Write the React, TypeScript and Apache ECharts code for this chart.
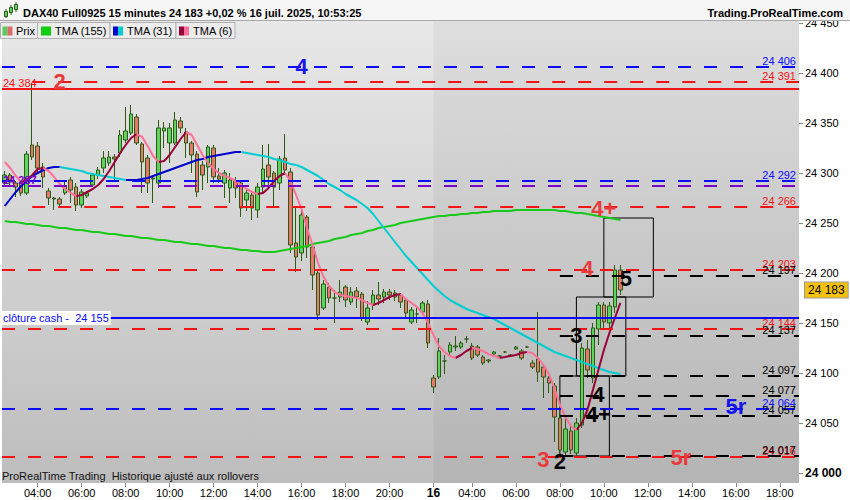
import React, { useEffect, useRef } from 'react';
import * as echarts from 'echarts';

const FONT = '"Liberation Sans", Arial, Helvetica, sans-serif';

const hhmm = (m: number) => `${String(Math.floor(m / 60)).padStart(2, '0')}:${String(m % 60).padStart(2, '0')}`;

// ---- categories (15-minute bars) ----
const day15Times: string[] = [];
for (let m = 150; m <= 1305; m += 15) day15Times.push('15 ' + hhmm(m));
const day16Times: string[] = [];
for (let m = 135; m <= 1125; m += 15) day16Times.push('16 ' + hhmm(m));
const categories = [...day15Times, ...day16Times];
const dayBreakIndex = day15Times.length;

// ---- price axis ticks ----
const yTicks = [24000, 24050, 24100, 24150, 24200, 24250, 24300, 24350, 24400, 24450];

// ---- candles: [open, close, low, high] ----
const ohlc: number[][] = [
  [24290, 24298, 24287, 24302], [24298, 24291, 24286, 24300], [24290, 24286, 24276, 24292], [24290, 24280, 24277, 24292],
  [24280, 24319, 24278, 24322], [24328, 24316, 24313, 24390], [24327, 24305, 24301, 24331], [24306, 24296, 24285, 24310],
  [24282, 24275, 24268, 24285], [24275, 24274, 24263, 24276], [24274, 24269, 24266, 24276], [24280, 24287, 24278, 24292],
  [24293, 24283, 24270, 24296], [24286, 24268, 24262, 24290], [24268, 24281, 24265, 24284], [24277, 24280, 24275, 24282],
  [24288, 24298, 24286, 24300], [24298, 24303, 24294, 24306], [24305, 24315, 24300, 24322], [24310, 24316, 24307, 24322],
  [24316, 24314, 24291, 24319], [24320, 24338, 24316, 24343], [24333, 24342, 24330, 24366], [24340, 24359, 24338, 24368],
  [24356, 24330, 24328, 24359], [24329, 24311, 24280, 24331], [24315, 24290, 24280, 24318], [24294, 24295, 24270, 24296],
  [24290, 24345, 24285, 24353], [24342, 24345, 24325, 24351], [24330, 24345, 24310, 24350], [24330, 24353, 24328, 24361],
  [24352, 24345, 24340, 24356], [24341, 24330, 24315, 24345], [24330, 24318, 24300, 24332], [24319, 24281, 24276, 24322],
  [24308, 24298, 24283, 24312], [24306, 24326, 24290, 24328], [24325, 24296, 24290, 24328], [24297, 24294, 24290, 24305],
  [24290, 24300, 24275, 24303], [24285, 24293, 24270, 24300], [24292, 24285, 24275, 24296], [24290, 24265, 24256, 24292],
  [24273, 24280, 24262, 24285], [24278, 24265, 24253, 24280], [24263, 24286, 24255, 24290], [24286, 24304, 24280, 24328],
  [24308, 24296, 24288, 24329], [24300, 24286, 24266, 24302], [24290, 24314, 24283, 24317], [24315, 24303, 24298, 24339],
  [24301, 24228, 24220, 24305], [24230, 24216, 24201, 24265], [24220, 24258, 24212, 24262], [24256, 24226, 24215, 24258],
  [24226, 24198, 24183, 24230], [24200, 24158, 24153, 24203], [24165, 24189, 24163, 24193], [24186, 24175, 24170, 24190],
  [24175, 24175, 24150, 24183], [24176, 24181, 24171, 24193], [24186, 24173, 24166, 24188], [24171, 24181, 24168, 24186],
  [24182, 24176, 24165, 24186], [24179, 24155, 24152, 24181], [24151, 24165, 24148, 24172], [24168, 24178, 24163, 24183],
  [24178, 24174, 24168, 24191], [24176, 24181, 24170, 24184], [24181, 24178, 24173, 24184], [24180, 24176, 24172, 24183],
  [24178, 24171, 24165, 24180], [24173, 24160, 24156, 24175], [24151, 24163, 24149, 24166], [24159, 24159, 24150, 24166],
  [24161, 24170, 24158, 24172], [24169, 24130, 24125, 24173],
  [24095, 24086, 24080, 24098], [24096, 24122, 24094, 24135], [24112, 24112, 24099, 24118], [24121, 24128, 24118, 24131],
  [24126, 24127, 24122, 24137], [24126, 24130, 24124, 24132], [24134, 24134, 24130, 24137], [24127, 24115, 24113, 24130],
  [24126, 24118, 24116, 24128], [24116, 24110, 24108, 24118], [24113, 24112, 24110, 24114], [24119, 24121, 24118, 24122],
  [24117, 24117, 24116, 24118], [24121, 24121, 24120, 24122], [24118, 24117, 24116, 24119], [24124, 24126, 24123, 24127],
  [24122, 24115, 24113, 24124], [24126, 24126, 24125, 24127], [24110, 24106, 24104, 24113], [24114, 24101, 24091, 24161],
  [24106, 24096, 24075, 24108], [24095, 24090, 24080, 24097], [24087, 24056, 24031, 24090], [24055, 24023, 24016, 24060],
  [24021, 24044, 24018, 24057], [24042, 24023, 24019, 24048], [24020, 24050, 24017, 24055], [24048, 24125, 24045, 24130],
  [24124, 24103, 24095, 24133], [24095, 24145, 24090, 24150], [24144, 24168, 24128, 24171], [24168, 24151, 24145, 24171],
  [24150, 24167, 24145, 24171], [24166, 24203, 24160, 24208], [24203, 24183, 24178, 24208],
];

// ---- moving averages ----
const tma155 = [
  24252, 24251, 24251, 24250, 24249, 24249, 24248, 24247, 24247, 24246,
  24245, 24245, 24244, 24243, 24243, 24242, 24241, 24241, 24240, 24239,
  24239, 24238, 24237, 24237, 24236, 24235, 24235, 24234, 24233, 24233,
  24232, 24231, 24231, 24230, 24229, 24229, 24228, 24227, 24227, 24226,
  24225, 24225, 24224, 24223, 24223, 24222, 24222, 24221, 24221, 24221,
  24222, 24223, 24224, 24225, 24226, 24227, 24229, 24230, 24231, 24232,
  24234, 24235, 24236, 24238, 24239, 24240, 24242, 24243, 24245, 24246,
  24247, 24248, 24250, 24251, 24252, 24253, 24254, 24255, 24256, 24257,
  24257, 24258, 24258, 24259, 24259, 24260, 24260, 24261, 24261, 24262,
  24262, 24262, 24262, 24263, 24263, 24263, 24263, 24263, 24263, 24263,
  24263, 24262, 24262, 24261, 24260, 24260, 24259, 24258, 24257, 24256,
  24255, 24254, 24253,
];
const tma31 = [
  24267, 24274, 24281, 24287, 24292, 24297, 24300, 24303, 24305, 24306,
  24306, 24305, 24304, 24303, 24302, 24300, 24299, 24298, 24297, 24296,
  24295, 24294, 24293, 24293, 24293, 24294, 24295, 24297, 24299, 24301,
  24303, 24305, 24307, 24309, 24311, 24313, 24314, 24316, 24317, 24318,
  24319, 24320, 24321, 24321, 24320, 24319, 24318, 24317, 24316, 24314,
  24313, 24311, 24309, 24308, 24306, 24303, 24300, 24297, 24293, 24289,
  24286, 24283, 24279, 24276, 24273, 24269, 24265, 24259, 24252, 24245,
  24238, 24231, 24224, 24217, 24211, 24205, 24199, 24193, 24187, 24182,
  24177, 24173, 24170, 24167, 24164, 24162, 24160, 24158, 24156, 24154,
  24151, 24148, 24145, 24142, 24139, 24136, 24133, 24130, 24127, 24124,
  24121, 24119, 24117, 24115, 24113, 24111, 24109, 24107, 24105, 24103,
  24101, 24100, 24099,
];
const tma6 = [
  24311, 24305, 24297, 24291, 24293, 24298, 24304, 24305, 24302, 24296,
  24289, 24284, 24280, 24277, 24278, 24281, 24284, 24288, 24294, 24302,
  24311, 24320, 24328, 24335, 24339, 24336, 24327, 24317, 24311, 24312,
  24318, 24326, 24334, 24341, 24338, 24328, 24318, 24310, 24304, 24300,
  24297, 24295, 24292, 24288, 24284, 24281, 24279, 24280, 24285, 24292,
  24297, 24300, 24292, 24278, 24264, 24245, 24228, 24210, 24196, 24187,
  24181, 24178, 24177, 24176, 24175, 24173, 24170, 24168, 24170, 24173,
  24176, 24178, 24179, 24174, 24170, 24166, 24160, 24150, 24138, 24127,
  24121, 24117, 24115, 24118, 24122, 24125, 24124, 24122, 24119, 24117,
  24115, 24116, 24117, 24118, 24120, 24121, 24120, 24115, 24108, 24099,
  24085, 24068, 24056, 24047, 24043, 24050, 24063, 24083, 24103, 24123,
  24140, 24155, 24170,
];

// ---- horizontal levels ----
const blueLevels = [24406, 24292, 24064];
const redLevels = [24391, 24266, 24203, 24144, 24016];
const redLevelStartBar = [5, 5, null, null, null];
const blackLevels = [24197, 24137, 24097, 24077, 24057, 24017];
const blackLevelStartBar = 101;
const purpleLevel = 24287;
const redSolidLevel = 24384;
const cashClose = 24155;
const lastPrice = 24183;

// ---- pattern boxes: [barFrom, priceTop, barTo, priceBottom] ----
const boxes = [
  [101, 24097, 110.3, 24017],
  [104.1, 24176, 113.2, 24097],
  [109, 24255, 118.1, 24176],
];

// ---- wave labels: [text, bar, price, colorKey] ----
const waveLabels: [string, number, number, string][] = [
  ['4', 53.7, 24407, 'blue'],
  ['2', 10, 24392, 'red'],
  ['4+', 108.9, 24265, 'red'],
  ['4', 106.1, 24205, 'red'],
  ['5', 112.8, 24195, 'black'],
  ['3', 104.1, 24138, 'black'],
  ['4', 107.9, 24079, 'black'],
  ['4+', 107.9, 24059, 'black'],
  ['5r', 133.2, 24067, 'blue'],
  ['3', 97.7, 24014, 'red'],
  ['2', 101, 24012, 'black'],
  ['5r', 123.2, 24016, 'red'],
];

const fmt = (v: number) => String(v).replace(/\B(?=(\d{3})+(?!\d))/g, ' ');

function splitTrend(vals: number[]) {
  const up: (number | null)[] = vals.map(() => null);
  const down: (number | null)[] = vals.map(() => null);
  for (let i = 0; i < vals.length - 1; i++) {
    const t = vals[i + 1] >= vals[i] ? up : down;
    t[i] = vals[i];
    t[i + 1] = vals[i + 1];
  }
  return [up, down];
}

const C = {
  blue: '#0a0aff',
  red: '#f01414',
  purple: '#7a00c8',
  black: '#000000',
  waveRed: '#e83a3a',
  waveBlue: '#1414ee',
};

export default function App() {
  const ref = useRef<HTMLDivElement>(null);
  useEffect(() => {
    if (!ref.current) return;
    const chart = echarts.init(ref.current, null, { renderer: 'svg' });
    const labelSet = new Set<number>();
    categories.forEach((c, i) => {
      const h = parseInt(c.slice(3, 5), 10);
      if (c.endsWith(':00') && h % 2 === 0 && h >= 4) labelSet.add(i);
    });
    labelSet.add(dayBreakIndex);
    const showLabel = (i: number) => labelSet.has(i);

    const [t31up, t31down] = splitTrend(tma31);
    const [t6up, t6down] = splitTrend(tma6);
    const nulls = ohlc.map(() => null);
    const RIGHT = 799;
    const LEFT = 2;
    const dash = [13, 13];

    const rightLabel = (v: number, color: string) => ({
      show: true, position: 'insideEndTop', formatter: fmt(v), color, fontSize: 11, fontFamily: FONT, distance: [3, 1],
    });
    const leftLabel = (v: number, color: string, bold = false) => ({
      show: true, position: 'insideStartTop', formatter: fmt(v), color, fontSize: 11, fontFamily: FONT, distance: [1, 1],
      fontWeight: bold ? 'bold' : 'normal',
    });

    const lines: any[] = [];
    blueLevels.forEach((v) => lines.push([
      { x: LEFT, yAxis: v, lineStyle: { color: C.blue, width: 2, type: dash }, label: rightLabel(v, C.blue) },
      { x: RIGHT, yAxis: v },
    ]));
    lines.push([
      { x: LEFT, yAxis: purpleLevel, lineStyle: { color: C.purple, width: 2, type: dash }, label: leftLabel(purpleLevel, C.purple, true) },
      { x: RIGHT, yAxis: purpleLevel },
    ]);
    redLevels.forEach((v, k) => {
      const sb = redLevelStartBar[k];
      const start: any = sb == null ? { x: LEFT, yAxis: v } : { xAxis: sb, yAxis: v };
      lines.push([
        { ...start, lineStyle: { color: C.red, width: 2, type: dash }, label: rightLabel(v, C.red) },
        { x: RIGHT, yAxis: v },
      ]);
    });
    lines.push([
      { x: LEFT, yAxis: redSolidLevel, lineStyle: { color: C.red, width: 2, type: 'solid' }, label: leftLabel(redSolidLevel, C.red) },
      { x: RIGHT, yAxis: redSolidLevel },
    ]);
    blackLevels.forEach((v) => lines.push([
      { xAxis: blackLevelStartBar, yAxis: v, lineStyle: { color: C.black, width: 2, type: dash }, label: rightLabel(v, C.black) },
      { x: RIGHT, yAxis: v },
    ]));
    lines.push([
      { x: LEFT, yAxis: cashClose, lineStyle: { color: C.blue, width: 2, type: 'solid' }, label: { show: false } },
      { x: RIGHT, yAxis: cashClose },
    ]);
    lines.push([
      { x: 0, yAxis: cashClose, lineStyle: { color: 'transparent', width: 0 },
        label: { show: true, position: 'end', distance: 0, formatter: 'clôture cash -  ' + fmt(cashClose), color: C.blue,
          backgroundColor: '#ffffff', padding: [2, 2, 1, 2], fontSize: 11, fontFamily: FONT } },
      { x: 1, yAxis: cashClose },
    ]);
    lines.push([
      { x: 799, yAxis: lastPrice, lineStyle: { color: 'transparent', width: 0 },
        label: { show: true, position: 'end', distance: 5, formatter: fmt(lastPrice), color: '#000',
          backgroundColor: '#f4c20d', borderColor: '#9a9a9a', borderWidth: 1, padding: [2, 3, 1, 3], fontSize: 12, fontFamily: FONT } },
      { x: 800, yAxis: lastPrice },
    ]);

    const waveColor: Record<string, string> = { red: C.waveRed, blue: C.waveBlue, black: '#000' };

    const option: any = {
      animation: false,
      textStyle: { fontFamily: FONT },
      grid: {
        left: 2, right: 51, top: 20, bottom: 17, show: true, borderWidth: 0,
        backgroundColor: new echarts.graphic.LinearGradient(0, 0, 0, 1, [
          { offset: 0, color: '#e8e8e8' },
          { offset: 1, color: '#bdbdbd' },
        ]),
      },
      xAxis: {
        type: 'category', data: categories, boundaryGap: true,
        axisLine: { show: false },
        axisTick: { show: true, interval: showLabel, alignWithLabel: true, length: 4, lineStyle: { color: '#888' } },
        axisLabel: {
          interval: showLabel, fontSize: 11, color: '#000', margin: 4, fontFamily: FONT,
          formatter: (v: string, i: number) => (i === dayBreakIndex ? '{b|16}' : v.slice(3)),
          rich: { b: { fontWeight: 'bold', fontSize: 12, fontFamily: FONT, color: '#000' } },
        },
        splitLine: { show: false },
      },
      yAxis: {
        type: 'value', position: 'right', min: 23990, max: 24453, scale: true,
        splitLine: { show: false },
        axisLine: { show: false },
        axisTick: { show: true, length: 4, lineStyle: { color: '#888' }, customValues: yTicks },
        axisLabel: {
          customValues: yTicks, fontSize: 11, color: '#000', margin: 6, fontFamily: FONT,
          formatter: (v: number) => (v === 24000 ? '{b|' + fmt(v) + '}' : fmt(v)),
          rich: { b: { fontWeight: 'bold', fontSize: 12, fontFamily: FONT, color: '#000' } },
        },
      },
      graphic: [
        { type: 'rect', shape: { x: 0, y: 0, width: 850, height: 20 }, style: { fill: '#f6f6f6' }, z: 10 },
        { type: 'line', shape: { x1: 0, y1: 20.5, x2: 850, y2: 20.5 }, style: { stroke: '#a8a8a8', lineWidth: 1 }, z: 10 },
        { type: 'line', shape: { x1: 6, y1: 9, x2: 6, y2: 18 }, style: { stroke: '#2b5a12', lineWidth: 1 }, z: 11 },
        { type: 'rect', shape: { x: 4.5, y: 11.5, width: 3, height: 5 }, style: { fill: '#5fd35f', stroke: '#2b5a12', lineWidth: 1 }, z: 11 },
        { type: 'line', shape: { x1: 11, y1: 5, x2: 11, y2: 15 }, style: { stroke: '#2b5a12', lineWidth: 1 }, z: 11 },
        { type: 'rect', shape: { x: 9.5, y: 7.5, width: 3, height: 5 }, style: { fill: '#5fd35f', stroke: '#2b5a12', lineWidth: 1 }, z: 11 },
        { type: 'line', shape: { x1: 16, y1: 2, x2: 16, y2: 12 }, style: { stroke: '#2b5a12', lineWidth: 1 }, z: 11 },
        { type: 'rect', shape: { x: 14.5, y: 4.5, width: 3, height: 5 }, style: { fill: '#5fd35f', stroke: '#2b5a12', lineWidth: 1 }, z: 11 },
        { type: 'text', x: 23, y: 13, z: 11, style: { text: 'DAX40 Full0925 15 minutes 24 183 +0,02 % 16 juil. 2025, 10:53:25', font: 'bold 11px ' + FONT, fill: '#000', verticalAlign: 'middle' } },
        { type: 'text', x: 843, y: 13, z: 11, style: { text: 'Trading.ProRealTime.com', font: 'bold 11px ' + FONT, fill: '#000', align: 'right', verticalAlign: 'middle' } },
        // legend
        { type: 'rect', shape: { x: 0.5, y: 22.5, width: 37, height: 16 }, style: { fill: '#ececec', stroke: '#b0b0b0', lineWidth: 1 }, z: 11 },
        { type: 'rect', shape: { x: 2.5, y: 26.5, width: 5, height: 9 }, style: { fill: '#5bc95b' }, z: 12 },
        { type: 'rect', shape: { x: 7.5, y: 26.5, width: 5, height: 9 }, style: { fill: '#e06a6a' }, z: 12 },
        { type: 'text', x: 16, y: 31, z: 12, style: { text: 'Prix', font: '11px ' + FONT, fill: '#000', verticalAlign: 'middle' } },
        { type: 'rect', shape: { x: 37.5, y: 22.5, width: 72.5, height: 16 }, style: { fill: '#ececec', stroke: '#b0b0b0', lineWidth: 1 }, z: 11 },
        { type: 'rect', shape: { x: 41, y: 26.5, width: 10, height: 9 }, style: { fill: '#11cc11' }, z: 12 },
        { type: 'text', x: 55, y: 31, z: 12, style: { text: 'TMA (155)', font: '11px ' + FONT, fill: '#000', verticalAlign: 'middle' } },
        { type: 'rect', shape: { x: 110, y: 22.5, width: 66, height: 16 }, style: { fill: '#ececec', stroke: '#b0b0b0', lineWidth: 1 }, z: 11 },
        { type: 'rect', shape: { x: 113, y: 26.5, width: 5, height: 9 }, style: { fill: '#0000cc' }, z: 12 },
        { type: 'rect', shape: { x: 118, y: 26.5, width: 5, height: 9 }, style: { fill: '#00cdd0' }, z: 12 },
        { type: 'text', x: 127, y: 31, z: 12, style: { text: 'TMA (31)', font: '11px ' + FONT, fill: '#000', verticalAlign: 'middle' } },
        { type: 'rect', shape: { x: 176, y: 22.5, width: 59, height: 16 }, style: { fill: '#ececec', stroke: '#b0b0b0', lineWidth: 1 }, z: 11 },
        { type: 'rect', shape: { x: 179, y: 26.5, width: 5, height: 9 }, style: { fill: '#99003a' }, z: 12 },
        { type: 'rect', shape: { x: 184, y: 26.5, width: 5, height: 9 }, style: { fill: '#ff6f99' }, z: 12 },
        { type: 'text', x: 193, y: 31, z: 12, style: { text: 'TMA (6)', font: '11px ' + FONT, fill: '#000', verticalAlign: 'middle' } },
        { type: 'text', x: 2, y: 476, z: 11, style: { text: 'ProRealTime Trading  Historique ajusté aux rollovers', font: '11px ' + FONT, fill: '#111', verticalAlign: 'middle' } },
      ],
      series: [
        {
          type: 'line', data: nulls, symbol: 'none', silent: true, z: 1,
          markArea: {
            silent: true,
            itemStyle: { color: 'rgba(0,0,0,0.045)' },
            data: [[{ xAxis: 77.9, yAxis: 24453 }, { yAxis: 23990 }]],
          },
        },
        {
          type: 'candlestick', data: ohlc, barWidth: 4, z: 2,
          itemStyle: { color: '#5fd35f', color0: '#e8786e', borderColor: '#2b5a12', borderColor0: '#2b5a12', borderWidth: 1 },
        },
        { type: 'line', data: tma155, symbol: 'none', z: 3, lineStyle: { color: '#19c919', width: 2 } },
        { type: 'line', data: t31up, symbol: 'none', z: 3, lineStyle: { color: '#0000cc', width: 2 } },
        { type: 'line', data: t31down, symbol: 'none', z: 3, lineStyle: { color: '#00cdd0', width: 2 } },
        { type: 'line', data: t6up, symbol: 'none', z: 3, lineStyle: { color: '#99003a', width: 2 } },
        { type: 'line', data: t6down, symbol: 'none', z: 3, lineStyle: { color: '#ff7099', width: 2 } },
        {
          type: 'line', data: nulls, symbol: 'none', silent: true, z: 4,
          markLine: { silent: true, symbol: ['none', 'none'], animation: false, data: lines },
          markArea: {
            silent: true,
            itemStyle: { color: 'rgba(0,0,0,0)', borderColor: '#000', borderWidth: 1 },
            data: boxes.map((b) => [{ xAxis: b[0], yAxis: b[1] }, { xAxis: b[2], yAxis: b[3] }]),
          },
          markPoint: {
            silent: true, symbol: 'circle', symbolSize: 0, itemStyle: { color: 'transparent' },
            data: waveLabels.map(([t, i, p, c]) => ({
              coord: [i, p],
              label: { show: true, position: 'inside', formatter: t, color: waveColor[c], fontSize: 22, fontWeight: 'bold', fontFamily: FONT },
            })),
          },
        },
      ],
    };
    chart.setOption(option);
    return () => chart.dispose();
  }, []);
  return <div ref={ref} style={{ position: 'fixed', left: 0, top: 0, width: 850, height: 500, background: '#fff' }} />;
}
